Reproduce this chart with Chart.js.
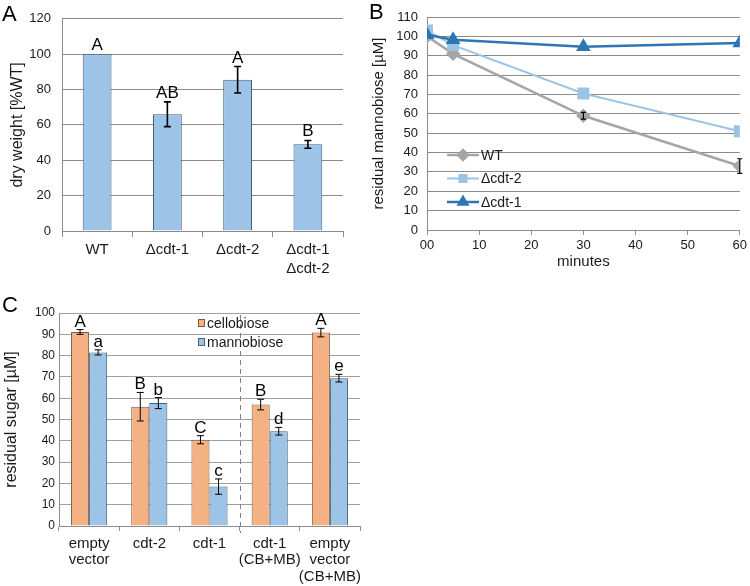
<!DOCTYPE html>
<html>
<head>
<meta charset="utf-8">
<script src="https://cdn.jsdelivr.net/npm/chart.js@4"></script>
<style>
  body { margin: 0; background: #fff; }
  #wrap { position: relative; width: 750px; height: 586px; font-family: "Liberation Sans", Arial, sans-serif; }
  canvas { position: absolute; }
  .panel { position: absolute; font-size: 22px; line-height: 1; color: #000; }
</style>
</head>
<body>
<div id="wrap">
  <canvas id="chartA" width="370" height="290" style="left:0;top:0"></canvas>
  <canvas id="chartB" width="380" height="290" style="left:370px;top:0"></canvas>
  <canvas id="chartC" width="380" height="296" style="left:0;top:290px"></canvas>
  <div class="panel" style="left:2px;top:3px">A</div>
  <div class="panel" style="left:369px;top:1px">B</div>
  <div class="panel" style="left:2px;top:294px">C</div>
</div>
<script>
// panel A - dry weight
const strainsA = ['WT', 'Δcdt-1', 'Δcdt-2', ['Δcdt-1', 'Δcdt-2']];
const dryWeight = [100, 66, 85.5, 49];
const dryWeightErr = [0, 7, 7.5, 2.2];
const lettersA = ['A', 'AB', 'A', 'B'];
const ticksA = [0, 20, 40, 60, 80, 100, 120];

// panel B - residual mannobiose over time
const minutes = [0, 5, 30, 60];
const wtMB = [100, 91, 59, 33];
const wtMBErr = [0, 0, 1.7, 3.8];
const cdt2MB = [103, 95.5, 70.5, 51];
const cdt1MB = [100.8, 98.3, 94.6, 96.6];

// panel C - residual sugar
const groupsC = [['empty', 'vector'], 'cdt-2', 'cdt-1', ['cdt-1', '(CB+MB)'], ['empty', 'vector', '(CB+MB)']];
const cellobiose = [91.1, 56, 40.5, 57, 90.8];
const cellobioseErr = [1.1, 6.7, 1.9, 2.5, 2];
const mannobiose = [81.5, 57.7, 18.5, 44.5, 69.4];
const mannobioseErr = [1.2, 2.6, 3.6, 1.8, 1.8];
const lettersCB = ['A', 'B', 'C', 'B', 'A'];
const lettersMB = ['a', 'b', 'c', 'd', 'e'];

Chart.defaults.font.family = '"Liberation Sans", Arial, sans-serif';
Chart.defaults.color = '#1a1a1a';
Chart.defaults.animation = false;

const gridGray = '#8c8c8c';
const fam = '"Liberation Sans", Arial, sans-serif';

// error bars + significance letters
const errorBars = {
  id: 'errorBars',
  afterDatasetsDraw(chart, args, opts) {
    const ctx = chart.ctx;
    const y = chart.scales.y;
    chart.data.datasets.forEach((ds, i) => {
      const meta = chart.getDatasetMeta(i);
      meta.data.forEach((el, j) => {
        const raw = ds.data[j];
        const val = typeof raw === 'object' ? raw.y : raw;
        const err = ds.errors ? ds.errors[j] : 0;
        let top = y.getPixelForValue(val);
        if (err) {
          const hi = y.getPixelForValue(val + err);
          const lo = y.getPixelForValue(val - err);
          ctx.save();
          ctx.strokeStyle = '#000';
          ctx.lineWidth = opts.width || 1;
          ctx.beginPath();
          ctx.moveTo(el.x, hi); ctx.lineTo(el.x, lo);
          ctx.moveTo(el.x - opts.cap, hi); ctx.lineTo(el.x + opts.cap, hi);
          ctx.moveTo(el.x - opts.cap, lo); ctx.lineTo(el.x + opts.cap, lo);
          ctx.stroke();
          ctx.restore();
          top = hi;
        }
        if (ds.letters && ds.letters[j]) {
          ctx.save();
          ctx.font = opts.font;
          ctx.fillStyle = '#000';
          ctx.textAlign = 'center';
          ctx.textBaseline = 'alphabetic';
          ctx.fillText(ds.letters[j], el.x, top - opts.gap);
          ctx.restore();
        }
      });
    });
  }
};

// legend drawn inside the plot area
const insideLegend = {
  id: 'insideLegend',
  afterDraw(chart, args, opts) {
    const ctx = chart.ctx;
    ctx.save();
    ctx.font = opts.font;
    ctx.textBaseline = 'middle';
    ctx.fillStyle = '#1a1a1a';
    chart.data.datasets.forEach((ds, i) => {
      const yy = opts.y + i * opts.row;
      if (opts.style === 'line') {
        ctx.strokeStyle = ds.borderColor;
        ctx.lineWidth = ds.borderWidth;
        ctx.beginPath();
        ctx.moveTo(opts.x, yy);
        ctx.lineTo(opts.x + opts.len, yy);
        ctx.stroke();
        ctx.fillStyle = ds.pointBackgroundColor;
        ctx.strokeStyle = ds.pointBorderColor;
        Chart.helpers.drawPoint(ctx, {pointStyle: ds.pointStyle, radius: opts.radius, rotation: 0, borderWidth: 1}, opts.x + opts.len / 2, yy);
        ctx.fillStyle = '#1a1a1a';
        ctx.fillText(ds.label, opts.x + opts.len + 2, yy + 1);
      } else {
        ctx.fillStyle = ds.backgroundColor;
        ctx.strokeStyle = ds.borderColor;
        ctx.lineWidth = 1;
        ctx.fillRect(opts.x, yy - 3.5, 7, 7);
        ctx.strokeRect(opts.x + 0.5, yy - 3.5, 6, 7);
        ctx.fillStyle = '#1a1a1a';
        ctx.fillText(ds.label, opts.x + 9, yy + 1);
      }
    });
    ctx.restore();
  }
};

// dashed separator in panel C
const separator = {
  id: 'separator',
  afterDatasetsDraw(chart, args, opts) {
    const x = chart.scales.x;
    const px = (x.getPixelForValue(opts.after) + x.getPixelForValue(opts.after + 1)) / 2;
    const ctx = chart.ctx;
    ctx.save();
    ctx.strokeStyle = '#808080';
    ctx.lineWidth = 1;
    ctx.setLineDash([5, 4]);
    ctx.beginPath();
    ctx.moveTo(Math.round(px) + 0.5, chart.chartArea.top + 2);
    ctx.lineTo(Math.round(px) + 0.5, chart.chartArea.bottom + 7);
    ctx.stroke();
    ctx.restore();
  }
};

const chartA = new Chart(document.getElementById('chartA'), {
  type: 'bar',
  data: {
    labels: strainsA,
    datasets: [{
      label: 'dry weight',
      data: dryWeight,
      errors: dryWeightErr,
      letters: lettersA,
      backgroundColor: '#9dc3e6',
      borderColor: '#3f5f7f',
      borderWidth: 1,
      categoryPercentage: 0.41,
      barPercentage: 1
    }]
  },
  options: {
    responsive: false,
    layout: {padding: {top: 17, right: 27, left: 0, bottom: 0}},
    plugins: {
      legend: {display: false},
      tooltip: {enabled: false},
      errorBars: {cap: 3.5, width: 1.6, gap: 4, font: '17px ' + fam}
    },
    scales: {
      x: {
        grid: {drawOnChartArea: false, drawTicks: true, tickLength: 6, color: gridGray, offset: true},
        border: {color: gridGray},
        ticks: {font: {size: 15, lineHeight: 1.27}, padding: 3, maxRotation: 0, autoSkip: false},
        afterFit(s) { s.height = 59; }
      },
      y: {
        min: 0, max: 120,
        afterBuildTicks(s) { s.ticks = ticksA.map(v => ({value: v})); },
        grid: {color: gridGray, drawTicks: false},
        border: {color: gridGray},
        ticks: {font: {size: 13}, padding: 11},
        title: {display: true, text: 'dry weight [%WT]', font: {size: 16}, padding: {top: 8, bottom: 0}},
        afterFit(s) { s.width = 62; }
      }
    }
  },
  plugins: [errorBars]
});

const chartB = new Chart(document.getElementById('chartB'), {
  type: 'line',
  data: {
    datasets: [{
      label: 'WT',
      data: minutes.map((m, i) => ({x: m, y: wtMB[i]})),
      errors: wtMBErr,
      borderColor: '#a5a5a5',
      borderWidth: 2.5,
      pointStyle: 'rectRot',
      pointRadius: 5.5,
      pointBackgroundColor: '#a5a5a5',
      pointBorderColor: '#a5a5a5',
      order: 2
    }, {
      label: 'Δcdt-2',
      data: minutes.map((m, i) => ({x: m, y: cdt2MB[i]})),
      borderColor: '#9dc3e6',
      borderWidth: 2,
      pointStyle: 'rect',
      pointRadius: 7,
      pointBackgroundColor: '#9dc3e6',
      pointBorderColor: '#9dc3e6',
      order: 1
    }, {
      label: 'Δcdt-1',
      data: minutes.map((m, i) => ({x: m, y: cdt1MB[i]})),
      borderColor: '#2e75b6',
      borderWidth: 2.5,
      pointStyle: 'triangle',
      pointRadius: 6,
      pointBackgroundColor: '#2e75b6',
      pointBorderColor: '#2e75b6',
      order: 0
    }]
  },
  options: {
    responsive: false,
    layout: {padding: {top: 17, right: 9, left: 0, bottom: 0}},
    plugins: {
      legend: {display: false},
      tooltip: {enabled: false},
      errorBars: {cap: 2.5, width: 1.2, gap: 3, font: '14px ' + fam},
      insideLegend: {x: 77, y: 155, row: 23.5, len: 32, radius: 5, style: 'line', font: '14px ' + fam}
    },
    scales: {
      x: {
        type: 'linear', min: 0, max: 60,
        ticks: {stepSize: 10, font: {size: 13}, padding: 3, callback: v => v === 0 ? '00' : v},
        grid: {drawOnChartArea: false, drawTicks: true, tickLength: 5, color: gridGray},
        border: {color: gridGray},
        title: {display: true, text: 'minutes', font: {size: 15}, padding: {top: 0, bottom: 19}},
        afterFit(s) { s.height = 60; }
      },
      y: {
        min: 0, max: 110,
        ticks: {stepSize: 10, font: {size: 13}, padding: 9},
        grid: {color: gridGray, drawTicks: false},
        border: {color: gridGray},
        title: {display: true, text: 'residual mannobiose [µM]', font: {size: 15}, padding: {top: 0, bottom: 0}},
        afterFit(s) { s.width = 57; }
      }
    }
  },
  plugins: [errorBars, insideLegend]
});

const chartC = new Chart(document.getElementById('chartC'), {
  type: 'bar',
  data: {
    labels: groupsC,
    datasets: [{
      label: 'cellobiose',
      data: cellobiose,
      errors: cellobioseErr,
      letters: lettersCB,
      backgroundColor: '#f4b183',
      borderColor: '#7f5a3f',
      borderWidth: 1,
      categoryPercentage: 0.6,
      barPercentage: 1
    }, {
      label: 'mannobiose',
      data: mannobiose,
      errors: mannobioseErr,
      letters: lettersMB,
      backgroundColor: '#9dc3e6',
      borderColor: '#3f5f7f',
      borderWidth: 1,
      categoryPercentage: 0.6,
      barPercentage: 1
    }]
  },
  options: {
    responsive: false,
    layout: {padding: {top: 23, right: 20, left: 0, bottom: 0}},
    plugins: {
      legend: {display: false},
      tooltip: {enabled: false},
      errorBars: {cap: 3.5, width: 1, gap: 3, font: '17px ' + fam},
      insideLegend: {x: 198, y: 33, row: 19, style: 'box', font: '14px ' + fam},
      separator: {after: 2}
    },
    scales: {
      x: {
        grid: {drawOnChartArea: false, drawTicks: true, tickLength: 5, color: gridGray, offset: true},
        border: {color: gridGray},
        ticks: {font: {size: 15, lineHeight: 1.08}, padding: 5, maxRotation: 0, autoSkip: false},
        afterFit(s) { s.height = 60; }
      },
      y: {
        min: 0, max: 100,
        ticks: {stepSize: 10, font: {size: 12}, padding: 4},
        grid: {color: '#a0a0a0', drawTicks: false},
        border: {color: gridGray},
        title: {display: true, text: 'residual sugar [µM]', font: {size: 16}, padding: {top: 2, bottom: 0}},
        afterFit(s) { s.width = 59; }
      }
    }
  },
  plugins: [errorBars, insideLegend, separator]
});
</script>
</body>
</html>
